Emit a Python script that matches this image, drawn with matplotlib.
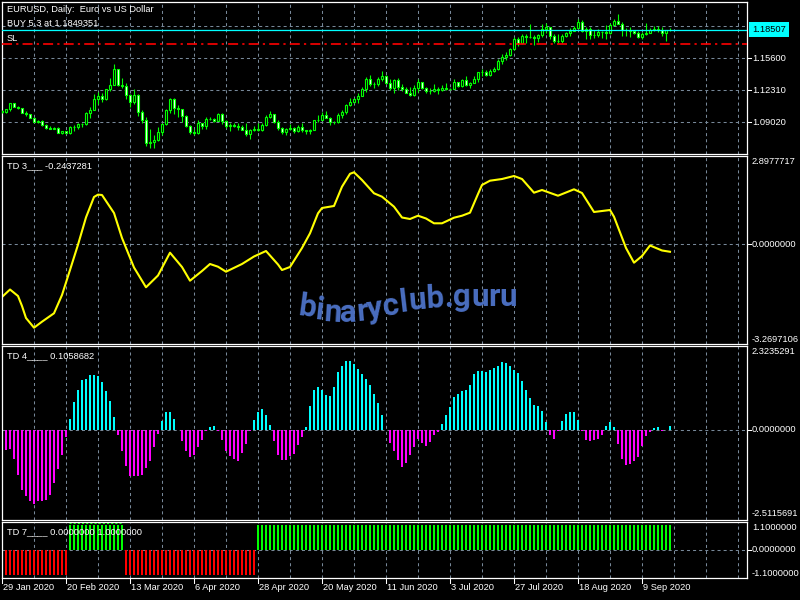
import numpy as np
import pandas as pd
import matplotlib
matplotlib.use('Agg')
import matplotlib.pyplot as plt
from matplotlib.font_manager import FontProperties, findfont
from matplotlib.ft2font import FT2Font
from matplotlib.transforms import IdentityTransform

plt.rcParams['font.family'] = ['Liberation Sans', 'DejaVu Sans']
plt.rcParams['lines.scale_dashes'] = False

# ---- data -------------------------------------------------------------
dates = pd.bdate_range('2020-01-29', periods=168)

opens = [1.1019, 1.1008, 1.1031, 1.1093, 1.1061, 1.1043, 1.0997, 1.0982, 1.0945, 1.0907,
         1.0916, 1.0873, 1.0841, 1.0830, 1.0836, 1.0792, 1.0805, 1.0787, 1.0848, 1.0854,
         1.0880, 1.0881, 1.0996, 1.1027, 1.1137, 1.1174, 1.1134, 1.1240, 1.1284, 1.1448,
         1.1283, 1.1268, 1.1184, 1.1106, 1.1177, 1.1000, 1.0919, 1.0691, 1.0698, 1.0722,
         1.0797, 1.0884, 1.1030, 1.1142, 1.1043, 1.1031, 1.0962, 1.0856, 1.0801, 1.0793,
         1.0890, 1.0859, 1.0935, 1.0937, 1.0913, 1.0985, 1.0908, 1.0862, 1.0875, 1.0862,
         1.0855, 1.0823, 1.0780, 1.0820, 1.0829, 1.0822, 1.0874, 1.0954, 1.0982, 1.0905,
         1.0838, 1.0797, 1.0830, 1.0836, 1.0806, 1.0850, 1.0815, 1.0805, 1.0819, 1.0919,
         1.0925, 1.0976, 1.0948, 1.0901, 1.0899, 1.0977, 1.1004, 1.1076, 1.1104, 1.1134,
         1.1172, 1.1237, 1.1340, 1.1289, 1.1295, 1.1345, 1.1371, 1.1301, 1.1256, 1.1335,
         1.1263, 1.1246, 1.1204, 1.1177, 1.1256, 1.1310, 1.1251, 1.1219, 1.1219, 1.1246,
         1.1234, 1.1252, 1.1238, 1.1245, 1.1309, 1.1274, 1.1331, 1.1287, 1.1300, 1.1343,
         1.1413, 1.1411, 1.1383, 1.1428, 1.1444, 1.1529, 1.1567, 1.1596, 1.1656, 1.1752,
         1.1717, 1.1791, 1.1780, 1.1778, 1.1762, 1.1800, 1.1863, 1.1875, 1.1786, 1.1737,
         1.1738, 1.1788, 1.1813, 1.1841, 1.1870, 1.1930, 1.1837, 1.1860, 1.1795, 1.1795,
         1.1831, 1.1832, 1.1818, 1.1904, 1.1937, 1.1913, 1.1853, 1.1849, 1.1838, 1.1817,
         1.1780, 1.1803, 1.1815, 1.1845, 1.1862, 1.1845, 1.1817, 1.1847]
highs = [1.1022, 1.1035, 1.1096, 1.1095, 1.1071, 1.1048, 1.1012, 1.0984, 1.0951, 1.0924,
         1.0924, 1.0883, 1.0862, 1.0851, 1.0851, 1.0811, 1.0814, 1.0863, 1.0867, 1.0890,
         1.0891, 1.1002, 1.1054, 1.1186, 1.1213, 1.1196, 1.1240, 1.1355, 1.1496, 1.1448,
         1.1354, 1.1306, 1.1192, 1.1239, 1.1195, 1.1025, 1.0955, 1.0830, 1.0767, 1.0848,
         1.0887, 1.1033, 1.1148, 1.1145, 1.1073, 1.1035, 1.0976, 1.0868, 1.0832, 1.0926,
         1.0892, 1.0952, 1.0951, 1.0945, 1.0990, 1.0990, 1.0925, 1.0888, 1.0895, 1.0887,
         1.0868, 1.0887, 1.0829, 1.0858, 1.0890, 1.0889, 1.0972, 1.1018, 1.0985, 1.0922,
         1.0849, 1.0836, 1.0879, 1.0849, 1.0876, 1.0887, 1.0819, 1.0832, 1.0927, 1.0975,
         1.1008, 1.1018, 1.0955, 1.0908, 1.0996, 1.1030, 1.1090, 1.1147, 1.1153, 1.1196,
         1.1258, 1.1362, 1.1384, 1.1312, 1.1361, 1.1423, 1.1387, 1.1347, 1.1348, 1.1355,
         1.1297, 1.1262, 1.1257, 1.1279, 1.1349, 1.1312, 1.1257, 1.1253, 1.1289, 1.1262,
         1.1281, 1.1303, 1.1253, 1.1346, 1.1314, 1.1344, 1.1371, 1.1312, 1.1375, 1.1414,
         1.1452, 1.1441, 1.1442, 1.1468, 1.1546, 1.1601, 1.1625, 1.1660, 1.1781, 1.1780,
         1.1805, 1.1808, 1.1908, 1.1793, 1.1809, 1.1913, 1.1916, 1.1883, 1.1807, 1.1804,
         1.1802, 1.1830, 1.1864, 1.1884, 1.1966, 1.1951, 1.1881, 1.1883, 1.1843, 1.1857,
         1.1834, 1.1900, 1.1915, 1.1966, 1.2011, 1.1929, 1.1868, 1.1882, 1.1845, 1.1836,
         1.1830, 1.1917, 1.1872, 1.1887, 1.1886, 1.1882, 1.1836, 1.1870]
lows = [1.0992, 1.0992, 1.1018, 1.1054, 1.1037, 1.0990, 1.0963, 1.0941, 1.0902, 1.0891,
        1.0862, 1.0835, 1.0827, 1.0828, 1.0788, 1.0778, 1.0778, 1.0779, 1.0805, 1.0834,
        1.0854, 1.0872, 1.0948, 1.1025, 1.1089, 1.1112, 1.1130, 1.1216, 1.1282, 1.1270,
        1.1249, 1.1138, 1.1054, 1.1092, 1.0963, 1.0895, 1.0656, 1.0637, 1.0636, 1.0706,
        1.0768, 1.0874, 1.0990, 1.0980, 1.0956, 1.0900, 1.0853, 1.0778, 1.0768, 1.0781,
        1.0831, 1.0830, 1.0925, 1.0897, 1.0910, 1.0880, 1.0838, 1.0814, 1.0852, 1.0815,
        1.0817, 1.0754, 1.0727, 1.0806, 1.0812, 1.0812, 1.0860, 1.0942, 1.0895, 1.0822,
        1.0782, 1.0767, 1.0818, 1.0793, 1.0796, 1.0804, 1.0774, 1.0775, 1.0815, 1.0902,
        1.0922, 1.0942, 1.0870, 1.0883, 1.0891, 1.0938, 1.0982, 1.1063, 1.1094, 1.1102,
        1.1168, 1.1210, 1.1271, 1.1254, 1.1274, 1.1327, 1.1292, 1.1227, 1.1203, 1.1231,
        1.1220, 1.1197, 1.1168, 1.1170, 1.1213, 1.1239, 1.1200, 1.1190, 1.1207, 1.1185,
        1.1219, 1.1232, 1.1228, 1.1245, 1.1263, 1.1259, 1.1276, 1.1255, 1.1298, 1.1314,
        1.1380, 1.1370, 1.1373, 1.1419, 1.1432, 1.1499, 1.1542, 1.1577, 1.1640, 1.1683,
        1.1709, 1.1713, 1.1761, 1.1696, 1.1725, 1.1781, 1.1815, 1.1754, 1.1711, 1.1711,
        1.1710, 1.1780, 1.1790, 1.1836, 1.1864, 1.1826, 1.1752, 1.1754, 1.1767, 1.1781,
        1.1766, 1.1754, 1.1808, 1.1898, 1.1910, 1.1789, 1.1789, 1.1781, 1.1811, 1.1765,
        1.1752, 1.1801, 1.1813, 1.1838, 1.1826, 1.1788, 1.1737, 1.1838]
closes = [1.1008, 1.1031, 1.1093, 1.1061, 1.1043, 1.0997, 1.0982, 1.0945, 1.0907, 1.0916,
          1.0873, 1.0841, 1.0830, 1.0836, 1.0792, 1.0805, 1.0787, 1.0848, 1.0854, 1.0880,
          1.0881, 1.0996, 1.1027, 1.1137, 1.1174, 1.1134, 1.1240, 1.1284, 1.1448, 1.1283,
          1.1268, 1.1184, 1.1106, 1.1177, 1.1000, 1.0919, 1.0691, 1.0698, 1.0722, 1.0797,
          1.0884, 1.1030, 1.1142, 1.1043, 1.1031, 1.0962, 1.0856, 1.0801, 1.0793, 1.0890,
          1.0859, 1.0935, 1.0937, 1.0913, 1.0985, 1.0908, 1.0862, 1.0875, 1.0862, 1.0855,
          1.0823, 1.0780, 1.0820, 1.0829, 1.0822, 1.0874, 1.0954, 1.0982, 1.0905, 1.0838,
          1.0797, 1.0830, 1.0836, 1.0806, 1.0850, 1.0815, 1.0805, 1.0819, 1.0919, 1.0925,
          1.0976, 1.0948, 1.0901, 1.0899, 1.0977, 1.1004, 1.1076, 1.1104, 1.1134, 1.1172,
          1.1237, 1.1340, 1.1289, 1.1295, 1.1345, 1.1371, 1.1301, 1.1256, 1.1335, 1.1263,
          1.1246, 1.1204, 1.1177, 1.1256, 1.1310, 1.1251, 1.1219, 1.1219, 1.1246, 1.1234,
          1.1252, 1.1238, 1.1245, 1.1309, 1.1274, 1.1331, 1.1287, 1.1300, 1.1343, 1.1413,
          1.1411, 1.1383, 1.1428, 1.1444, 1.1529, 1.1567, 1.1596, 1.1656, 1.1752, 1.1717,
          1.1791, 1.1780, 1.1778, 1.1762, 1.1800, 1.1863, 1.1875, 1.1786, 1.1737, 1.1738,
          1.1788, 1.1813, 1.1841, 1.1870, 1.1930, 1.1837, 1.1860, 1.1795, 1.1795, 1.1831,
          1.1832, 1.1818, 1.1904, 1.1937, 1.1913, 1.1853, 1.1849, 1.1838, 1.1817, 1.1780,
          1.1803, 1.1815, 1.1845, 1.1862, 1.1845, 1.1817, 1.1851, 1.18507]

bid_price = 1.18507
sl_price = 1.1704
price_grid = [1.18890, 1.15600, 1.12310, 1.09020]
price_range = (1.05730, 1.21358)

# TD 3 line, read at these bars
td3_bars = [0, 2, 4, 5, 6, 8, 10, 13, 15, 17, 19, 21, 23, 24, 25, 28, 30, 33, 36, 39,
            42, 45, 47, 50, 52, 54, 56, 60, 63, 66, 69, 70, 72, 75, 77, 79, 80, 83, 85, 87,
            88, 90, 93, 95, 98, 100, 102, 104, 106, 108, 110, 113, 115, 117, 119, 120, 122,
            125, 128, 130, 133, 135, 139, 143, 145, 148, 152, 153, 156, 158, 160, 162, 165, 167]
td3_vals = [-1.728, -1.482, -1.695, -2.023, -2.417, -2.735, -2.538, -2.262, -1.662, -0.842,
            -0.012, 0.884, 1.553, 1.630, 1.618, 1.028, 0.208, -0.760, -1.409, -1.022,
            -0.274, -0.744, -1.193, -0.875, -0.645, -0.734, -0.898, -0.645, -0.399, -0.219,
            -0.661, -0.842, -0.744, -0.120, 0.362, 1.018, 1.192, 1.258, 1.891, 2.314,
            2.363, 2.110, 1.674, 1.563, 1.235, 0.880, 0.831, 0.939, 0.848, 0.690,
            0.690, 0.874, 0.939, 1.038, 1.651, 1.947, 2.088,
            2.143, 2.242, 2.143, 1.694, 1.782, 1.595, 1.805, 1.684, 1.061, 1.126, 0.906,
            -0.120, -0.602, -0.383, -0.038, -0.202, -0.2437281]
td3_range = (-3.2697106, 2.8977717)

# TD 4 histogram, one value per bar
td4_vals = [-0.500, -0.556, -0.528, -0.815, -1.250, -1.667, -1.853, -1.991, -2.065, -1.991,
            -1.973, -1.945, -1.806, -1.482, -1.093, -0.713, -0.213, 0.296, 0.760, 1.111,
            1.371, 1.417, 1.528, 1.528, 1.482, 1.315, 1.084, 0.787, 0.352, -0.139,
            -0.602, -1.019, -1.278, -1.278, -1.297, -1.250, -1.065, -0.880, -0.491, -0.111,
            0.250, 0.500, 0.500, 0.296, -0.020, -0.324, -0.602, -0.769, -0.713, -0.491,
            -0.278, -0.030, 0.074, 0.111, -0.046, -0.296, -0.602, -0.741, -0.815, -0.880,
            -0.649, -0.398, -0.046, 0.278, 0.482, 0.584, 0.417, 0.139, -0.324, -0.695,
            -0.852, -0.834, -0.741, -0.667, -0.435, -0.204, 0.074, 0.648, 1.093, 1.186,
            1.093, 0.973, 0.926, 1.186, 1.593, 1.778, 1.899, 1.917, 1.834, 1.695,
            1.556, 1.417, 1.250, 1.000, 0.741, 0.417, -0.020, -0.371, -0.602, -0.852,
            -1.037, -0.926, -0.695, -0.482, -0.259, -0.371, -0.463, -0.352, -0.157, -0.074,
            0.167, 0.417, 0.630, 0.908, 1.000, 1.065, 1.112, 1.250, 1.556, 1.621,
            1.621, 1.593, 1.649, 1.714, 1.778, 1.880, 1.853, 1.778, 1.667, 1.575,
            1.362, 1.112, 0.880, 0.695, 0.667, 0.528, 0.204, -0.139, -0.250, -0.046,
            0.232, 0.445, 0.500, 0.500, 0.278, -0.046, -0.278, -0.324, -0.296, -0.250,
            -0.139, 0.111, 0.213, 0.074, -0.389, -0.806, -0.991, -0.954, -0.880, -0.769,
            -0.445, -0.185, -0.074, 0.046, 0.074, -0.046, -0.020, 0.1058682]
td4_range = (-2.5115691, 2.3235291)

# TD 7 state, as (value, number of bars)
td7_runs = [(-1, 17), (1, 14), (-1, 33), (1, 104)]
td7_range = (-1.1, 1.1)

watermark = 'binaryclub.guru'

# ---- layout (pixels) ----------------------------------------------------
W, H = 800, 600
LEFT, RIGHT = 2, 747
BAR_PX = 4.0
x_lim = (0, (RIGHT - LEFT) / BAR_PX)
grid_bars = np.arange(8, x_lim[1], 8)

GRID = '#778899'
LIME = '#00ff00'
FS = 6.7

fig = plt.figure(figsize=(W / 100, H / 100), dpi=100, facecolor='black')


def make_panel(top, bottom, ylim, ygrid):
    ax = fig.add_axes([LEFT / W, 1 - bottom / H, (RIGHT - LEFT) / W, (bottom - top) / H])
    ax.set_facecolor('black')
    for s in ax.spines.values():
        s.set_color('white')
        s.set_linewidth(0.9)
    ax.set_xlim(*x_lim)
    ax.set_ylim(*ylim)
    ax.set_xticks(grid_bars)
    ax.set_yticks(ygrid)
    ax.tick_params(length=0, labelbottom=False, labelleft=False)
    ax.grid(True, color=GRID, linestyle=(0, (2.2, 2.2)), linewidth=0.75)
    ax.set_axisbelow(True)
    return ax


def right_label(ax, y, text, tick=True):
    ax.annotate(text, xy=(1, y), xycoords=('axes fraction', 'data'), xytext=(5, 0),
                textcoords='offset pixels', color='white', fontsize=FS,
                va='center', ha='left', annotation_clip=False)
    if tick:
        ax.plot([1, 1 + 4 / (RIGHT - LEFT)], [y, y], color='white', lw=0.75,
                transform=ax.get_yaxis_transform(), clip_on=False)


def corner_label(ax, text, top=True, dy=6):
    ax.annotate(text, xy=(1, 1 if top else 0), xycoords='axes fraction',
                xytext=(5, -dy if top else dy), textcoords='offset pixels',
                color='white', fontsize=FS, va='center', ha='left', annotation_clip=False)


def title_label(ax, text, dy):
    ax.annotate(text, xy=(0, 1), xycoords='axes fraction', xytext=(5, -dy),
                textcoords='offset pixels', color='white', fontsize=FS,
                va='center', ha='left')


x = np.arange(len(closes))
o = np.array(opens)
c = np.array(closes)

# ---- main price panel ---------------------------------------------------
ax0 = make_panel(2, 154, price_range, price_grid)
ax0.vlines(x, lows, highs, color=LIME, lw=0.8, zorder=3)
body_lo = np.minimum(o, c)
body_h = np.abs(c - o)
body_fill = np.where(c > o, 'black', 'white')
ax0.bar(x, body_h, bottom=body_lo, width=0.6, color=body_fill, edgecolor=LIME,
        linewidth=0.8, zorder=4)
ax0.axhline(bid_price, color='#00ffff', lw=0.9, zorder=5)
ax0.axhline(sl_price, color='red', lw=1.2, linestyle=(0, (7.2, 3.0, 1.6, 3.0)), zorder=5)
title_label(ax0, 'EURUSD, Daily:  Euro vs US Dollar', 8)
title_label(ax0, 'BUY 5.3 at 1.1849351', 22)
title_label(ax0, 'SL', 37)
for p in price_grid[1:]:
    right_label(ax0, p, f'{p:.5f}')
# the top grid label sits behind the bid price box, only its top edge shows
ax0.annotate(f'{price_grid[0]:.5f}', xy=(1, price_grid[0]),
             xycoords=('axes fraction', 'data'), xytext=(5, 0), textcoords='offset pixels',
             color='white', fontsize=FS, va='center', ha='left', annotation_clip=False)
ax0.annotate(f'{bid_price:.5f}', xy=(1, bid_price), xycoords=('axes fraction', 'data'),
             xytext=(5, 0), textcoords='offset pixels', color='black', fontsize=FS,
             va='center', ha='left', annotation_clip=False, zorder=10,
             bbox=dict(boxstyle='square,pad=0.3', fc='#00ffff', ec='none'))

# ---- TD 3 line ----------------------------------------------------------
ax1 = make_panel(156, 344, td3_range, [0])
ax1.plot(td3_bars, td3_vals, color='#ffff00', lw=1.5, solid_joinstyle='round')
title_label(ax1, f'TD 3___ {td3_vals[-1]:.7f}', 10)
corner_label(ax1, f'{td3_range[1]:.7f}', top=True, dy=6)
corner_label(ax1, f'{td3_range[0]:.7f}', top=False, dy=5)
right_label(ax1, 0, '0.0000000')

# ---- TD 4 histogram -----------------------------------------------------
ax2 = make_panel(346, 520, td4_range, [0])
td4 = np.array(td4_vals)
ax2.bar(x, td4, width=0.55, color=np.where(td4 >= 0, '#00ffff', '#ff00ff'), linewidth=0)
title_label(ax2, f'TD 4____ {td4_vals[-1]:.7f}', 10)
corner_label(ax2, f'{td4_range[1]:.7f}', top=True, dy=6)
corner_label(ax2, f'{td4_range[0]:.7f}', top=False, dy=6)
right_label(ax2, 0, '0.0000000')

# ---- TD 7 state bars ----------------------------------------------------
ax3 = make_panel(522, 578, td7_range, [0])
td7 = np.repeat([v for v, n in td7_runs], [n for v, n in td7_runs])
ax3.bar(x, td7, width=0.55, color=np.where(td7 > 0, LIME, '#ff0000'), linewidth=0)
first_up = td7_runs[0][1]
ax3.hlines(1.06, first_up - 0.3, first_up + td7_runs[1][1] - 0.7, color=LIME,
           lw=0.8, linestyle=(0, (1.5, 1.5)))
title_label(ax3, 'TD 7____ 0.0000000 1.0000000', 10)
corner_label(ax3, f'{td7_range[1]:.7f}', top=True, dy=6)
corner_label(ax3, f'{td7_range[0]:.7f}', top=False, dy=5)
right_label(ax3, 0, '0.0000000')

# date scale under the last panel
for i in range(0, len(dates), 16):
    ax3.annotate(f'{dates[i].day} {dates[i]:%b %Y}', xy=(i, 0),
                 xycoords=('data', 'axes fraction'), xytext=(1, -10),
                 textcoords='offset pixels', color='white', fontsize=FS,
                 va='center', ha='left', annotation_clip=False)
    ax3.plot([i, i], [0, -5 / 56], color='white', lw=0.75,
             transform=ax3.get_xaxis_transform(), clip_on=False)

# ---- watermark, set letter by letter on a wavy baseline -----------------
wm_size = 22.5
wm_fp = FontProperties(family='Roboto', weight='bold', size=wm_size)
ft = FT2Font(findfont(wm_fp))
ft.set_size(wm_size, 100)
adv = np.array([ft.load_char(ord(ch)).linearHoriAdvance / 65536 for ch in watermark])
cx = 297 + np.cumsum(adv) - adv / 2
bump = np.exp(-((cx - 345) / 60) ** 2)
base = 306 + 16 * bump
slope = -2 * (cx - 345) / 60 ** 2 * 16 * bump
for ch, xx, yy, sl in zip(watermark, cx, base, slope):
    fig.text(xx, H - yy, ch, transform=IdentityTransform(), fontproperties=wm_fp,
             color='#4a6ec0', ha='center', va='baseline',
             rotation=-0.6 * np.degrees(np.arctan(sl)), rotation_mode='anchor', zorder=20)

fig.savefig('out.png', dpi=100, facecolor='black')
